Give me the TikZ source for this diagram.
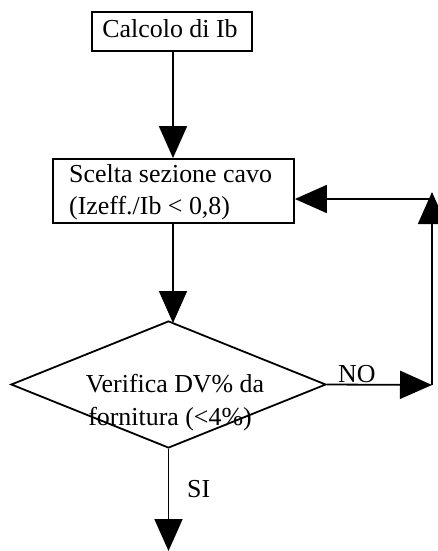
\documentclass[tikz,border=0pt]{standalone}
\usepackage{fontspec}
\setmainfont{Liberation Serif}
\usetikzlibrary{arrows.meta,shapes.geometric}
\tikzset{
  box/.style={draw, line width=1.8bp, inner sep=0pt},
  txt/.style={inner sep=0pt, font=\fontsize{25.9bp}{32bp}\selectfont},
  arr/.style={line width=1.8bp, -{Triangle[length=32bp, width=28bp]}},
}
\begin{document}
\begin{tikzpicture}[x=1bp, y=-1bp]
\useasboundingbox (0,0) rectangle (438,551);
% box 1
\node[box, minimum width=160bp, minimum height=39bp] (b1) at (172,31.5) {};
\node[txt, anchor=base] (b1t) at (170,38) {Calcolo di Ib};
% box 2
\node[box, minimum width=241bp, minimum height=64bp] (b2) at (173.5,191) {};
\node[txt, anchor=base west] (b2a) at (69,183) {Scelta sezione cavo};
\node[txt, anchor=base west] (b2b) at (69,215) {(Izeff./Ib < 0,8)};
% diamond
\node[draw, line width=1.8bp, shape=diamond, inner sep=0pt, minimum width=315bp, minimum height=127bp] (d) at (168.5,384.5) {};
\node[txt, anchor=base] (d1) at (175,392) {Verifica DV\% da};
\node[txt, anchor=base] (d2) at (170,425) {fornitura (<4\%)};
% coordinates
\coordinate (c0) at (173,323);
\coordinate (c1) at (432,385);
\coordinate (c2) at (432,192);
\coordinate (c3) at (432,199);
\coordinate (c4) at (168.5,551);
% connectors
\draw[arr] (b1.south -| c0) -- (b2.north -| c0);
\draw[arr] (b2.south -| c0) -- (c0);
\draw[arr] (d.east) -- (c1);
\draw[arr] (c1) -- (c2);
\draw[arr] (c3) -- (b2.east |- c3);
\draw[arr] (d.south) -- (c4);
% labels
\node[txt, anchor=base west] (no) at (338,382) {NO};
\node[txt, anchor=base west] (si) at (187,497) {SI};
\end{tikzpicture}
\end{document}
